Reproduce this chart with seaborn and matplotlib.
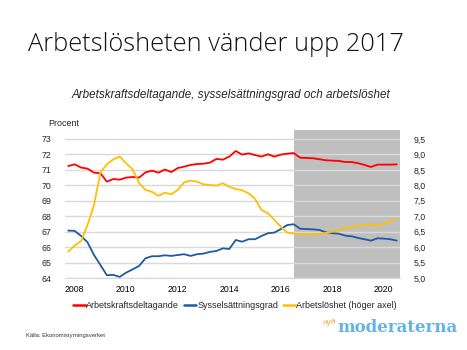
import numpy as np
import pandas as pd
import matplotlib
matplotlib.use("Agg")
import matplotlib.pyplot as plt
import seaborn as sns
from matplotlib.lines import Line2D

# Quarterly data 2008Q1 - 2020Q4
years = [2008, 2010, 2012, 2014, 2016, 2018, 2020]

arbetskraft = [71.25, 71.36, 71.15, 71.08, 70.82, 70.78, 70.24, 70.41, 70.37, 70.50,
               70.54, 70.50, 70.84, 70.95, 70.82, 71.02, 70.86, 71.12, 71.21, 71.32,
               71.38, 71.40, 71.47, 71.71, 71.66, 71.86, 72.22, 71.99, 72.07, 71.96,
               71.86, 72.01, 71.86, 71.99, 72.05, 72.09, 71.79, 71.77, 71.75, 71.69,
               71.62, 71.60, 71.58, 71.51, 71.51, 71.43, 71.32, 71.19, 71.34, 71.34,
               71.34, 71.36]

syssel = [67.07, 67.05, 66.72, 66.31, 65.49, 64.84, 64.18, 64.20, 64.07, 64.35,
          64.56, 64.78, 65.28, 65.41, 65.41, 65.47, 65.43, 65.49, 65.54, 65.43,
          65.54, 65.58, 65.69, 65.75, 65.92, 65.88, 66.46, 66.35, 66.51, 66.51,
          66.72, 66.90, 66.94, 67.17, 67.43, 67.48, 67.19, 67.17, 67.15, 67.11,
          66.96, 66.90, 66.87, 66.74, 66.70, 66.59, 66.51, 66.42, 66.57, 66.55,
          66.51, 66.42]

arbetsloshet = [5.85, 6.05, 6.20, 6.72, 7.36, 8.42, 8.68, 8.84, 8.93, 8.71,
                8.52, 8.07, 7.85, 7.79, 7.66, 7.76, 7.71, 7.85, 8.10, 8.15,
                8.12, 8.03, 8.01, 7.99, 8.07, 7.95, 7.88, 7.84, 7.74, 7.56,
                7.20, 7.10, 6.88, 6.66, 6.47, 6.44, 6.42, 6.40, 6.42, 6.43,
                6.46, 6.50, 6.55, 6.61, 6.65, 6.68, 6.72, 6.73, 6.69, 6.76,
                6.85, 6.93]

prognos_start = 35  # 2016Q4, shaded forecast period

df = pd.DataFrame({
    "q": np.arange(len(arbetskraft)),
    "Arbetskraftsdeltagande": arbetskraft,
    "Sysselsättningsgrad": syssel,
    "Arbetslöshet (höger axel)": arbetsloshet,
})

red = "#ff0000"
blue = "#1f5aa0"
yellow = "#ffc000"

sns.set_style("white")
plt.rcParams["font.family"] = ["Liberation Sans", "DejaVu Sans"]

fig = plt.figure(figsize=(4.67, 3.5), dpi=100)
ax = fig.add_axes([65 / 467, 1 - 278 / 350, 335 / 467, 148 / 350])
ax2 = ax.twinx()

ax.axvspan(prognos_start, len(arbetskraft) - 0.5, color="#bfbfbf", lw=0, zorder=0.2)
ax.set_axisbelow(True)
ax.grid(axis="y", color="#d9d9d9", lw=1.0, zorder=0.5)

sns.lineplot(data=df, x="q", y="Arbetskraftsdeltagande", ax=ax, color=red, lw=1.3, zorder=3)
sns.lineplot(data=df, x="q", y="Sysselsättningsgrad", ax=ax, color=blue, lw=1.3, zorder=3)
sns.lineplot(data=df, x="q", y="Arbetslöshet (höger axel)", ax=ax2, color=yellow, lw=1.3, zorder=3)

ax.set_xlim(-0.5, len(arbetskraft) - 0.5)
top = 73 + 9 / 15.45
ax.set_ylim(64, top)
ax2.set_ylim(5.0, 5.0 + (top - 64) / 2)
ax.set_yticks(range(64, 74))
ax2.set_yticks(np.arange(5.0, 9.51, 0.5))
ax2.set_yticklabels([f"{v:.1f}".replace(".", ",") for v in np.arange(5.0, 9.51, 0.5)])

ax.set_xticks([0.95 + 8 * k for k in range(len(years))])
ax.set_xticklabels([str(y) for y in years])
ax.set_xticks(np.arange(-0.5, len(arbetskraft), 4), minor=True)
ax.tick_params(axis="x", which="major", length=0, pad=5, labelsize=6.3, colors="#000000")
ax.tick_params(axis="x", which="minor", length=4, color="#d9d9d9", width=1)
ax.tick_params(axis="y", length=0, pad=10, labelsize=6.3)
ax2.tick_params(axis="y", length=0, pad=10, labelsize=6.3)

ax.set_xlabel("")
ax.set_ylabel("")
ax2.set_ylabel("")
ax2.grid(False)
for a in (ax, ax2):
    for s in ["left", "right", "top"]:
        a.spines[s].set_visible(False)
    a.spines["bottom"].set_color("#d9d9d9")

fig.text(48 / 467, 1 - 123 / 350, "Procent", fontsize=6.5, va="center", ha="left")

fig.text(28 / 467, 1 - 51 / 350, "Arbetslösheten vänder upp 2017",
         family=["Open Sans", "DejaVu Sans"], fontweight="light",
         fontsize=18.3, ha="left", va="baseline", color="#111111")
fig.text(231 / 467, 1 - 95 / 350,
         "Arbetskraftsdeltagande, sysselsättningsgrad och arbetslöshet",
         fontsize=8.4, style="italic", ha="center", va="center")

handles = [Line2D([], [], color=c, lw=1.8) for c in (red, blue, yellow)]
labels = ["Arbetskraftsdeltagande", "Sysselsättningsgrad", "Arbetslöshet (höger axel)"]
fig.legend(handles, labels, loc="center", bbox_to_anchor=(235 / 467, 1 - 306 / 350),
           ncol=3, frameon=False, fontsize=6.5, handlelength=1.4, handletextpad=0.1,
           columnspacing=0.5)

fig.text(26 / 467, 1 - 335 / 350, "Källa: Ekonomistyrningsverket", fontsize=4.2,
         ha="left", va="center", color="#333333")

fig.text(337 / 467, 1 - 332 / 350, "moderaterna", family=["DejaVu Serif"],
         fontweight="bold", fontsize=12, color="#62b4e2", ha="left", va="baseline")
fig.text(323 / 467, 1 - 322 / 350, "nya", style="italic", fontsize=6,
         color="#f0a030", ha="left", va="center", rotation=10)

fig.savefig("out.png", dpi=100)
